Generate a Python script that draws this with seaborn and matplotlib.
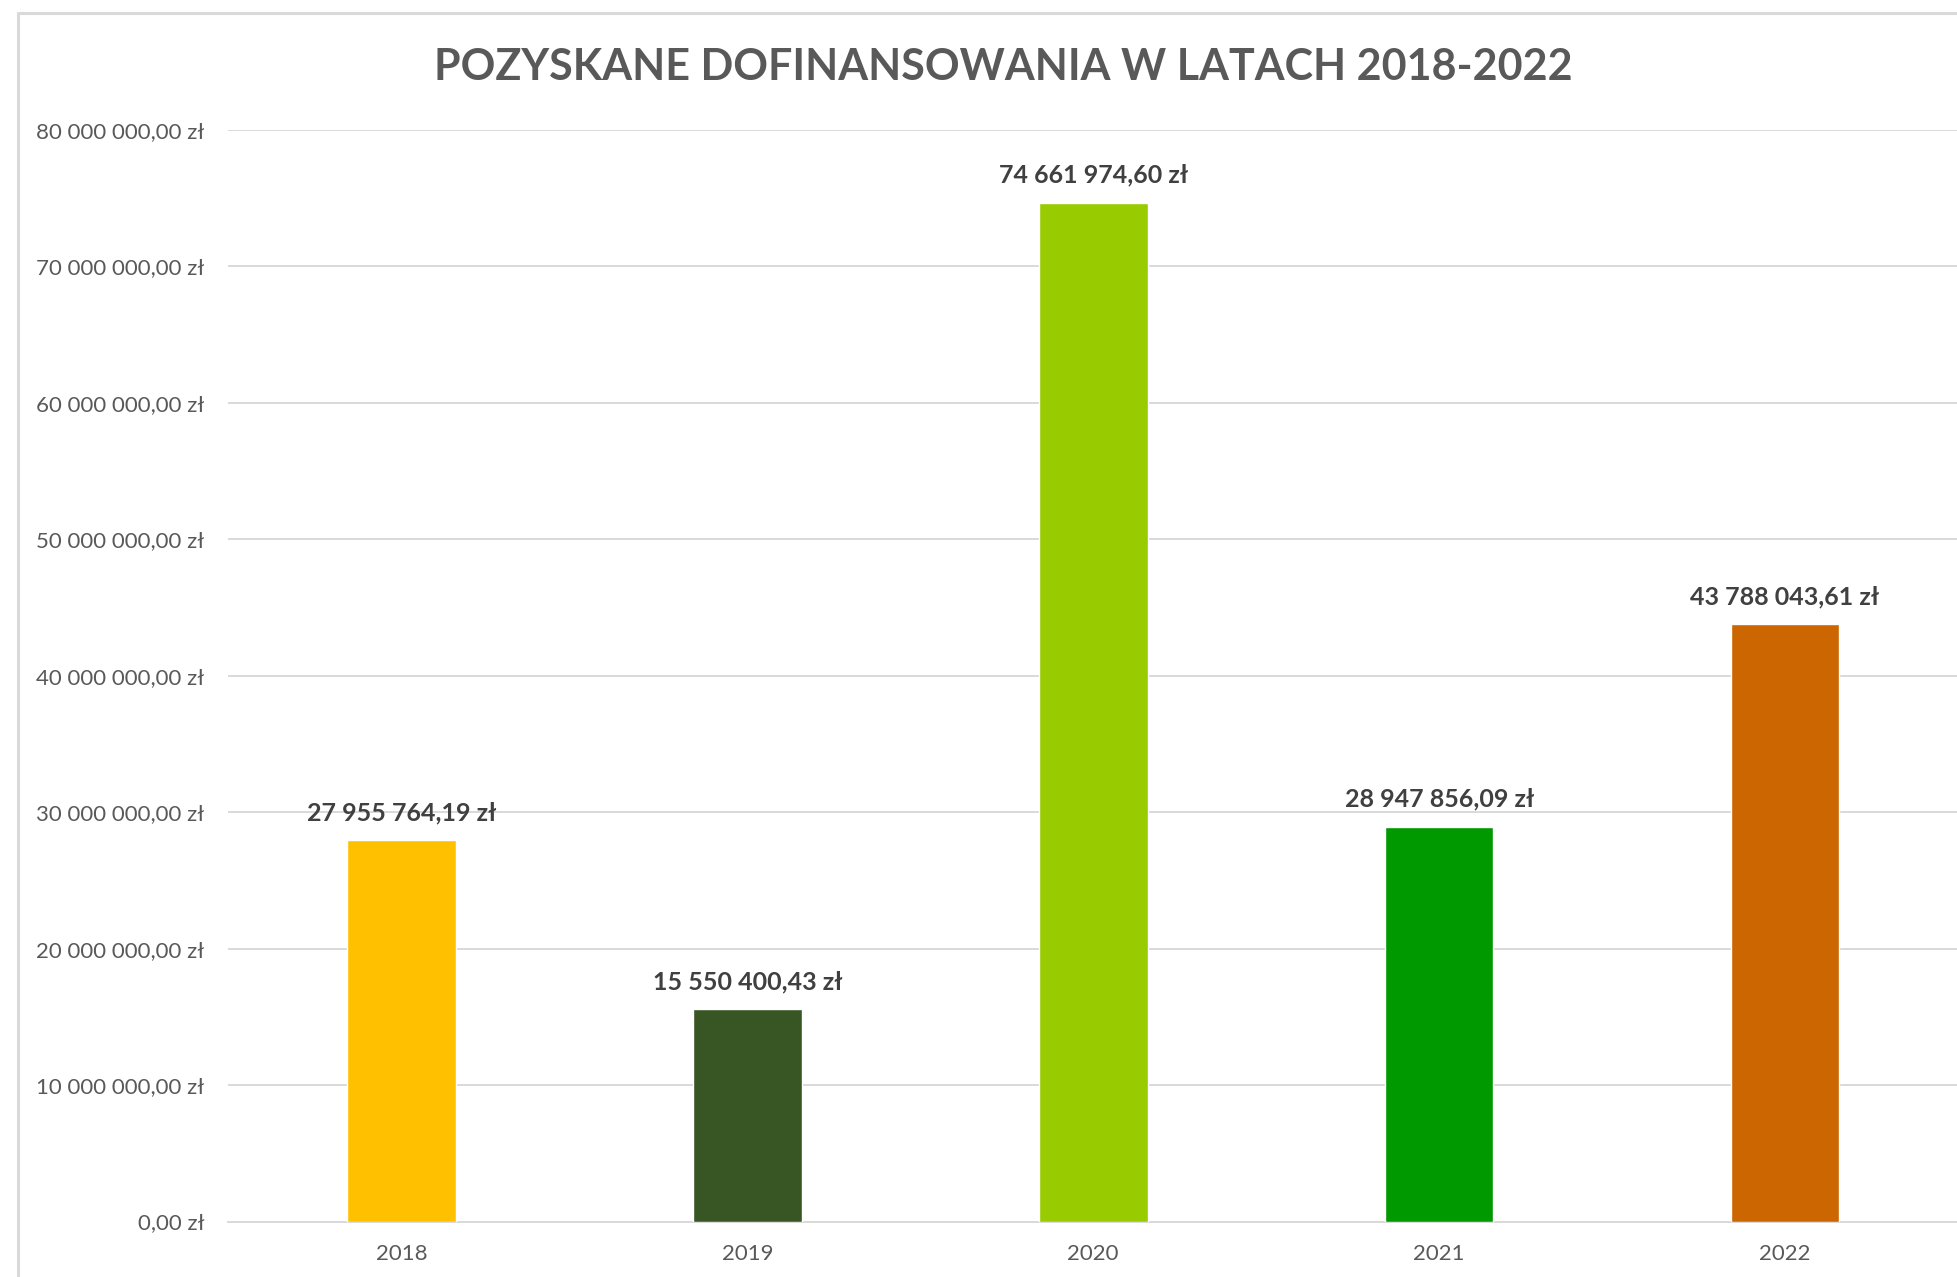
import matplotlib
matplotlib.use("Agg")
import matplotlib.pyplot as plt
from matplotlib.lines import Line2D
from matplotlib.ticker import FuncFormatter, MultipleLocator
import seaborn as sns
import pandas as pd

# ---- data ----
years = ["2018", "2019", "2020", "2021", "2022"]
values = [27955764.19, 15550400.43, 74661974.60, 28947856.09, 43788043.61]
colors = ["#FFC000", "#375623", "#99CC00", "#009900", "#CC6600"]
title = "POZYSKANE DOFINANSOWANIA W LATACH 2018-2022"


def pln(v):
    s = f"{v:,.2f}"
    s = s.replace(",", " ").replace(".", ",")
    return s + " zł"


df = pd.DataFrame({"year": years, "value": values})

sns.set_theme(style="white")
plt.rcParams["font.family"] = ["Lato", "DejaVu Sans"]

W, H = 1958, 1277
fig = plt.figure(figsize=(W / 100, H / 100), dpi=100)
fig.patch.set_facecolor("white")
ax = fig.add_axes([228.5 / W, 1 - 1221.5 / H, (1958 - 228.5) / W, (1221.5 - 130) / H])

sns.barplot(data=df, x="year", y="value", hue="year", palette=colors,
            width=0.314, saturation=1, legend=False, ax=ax, zorder=3)

ax.set_xlim(-0.5, 4.5)
ax.set_ylim(0, 80_000_000)
ax.yaxis.set_major_locator(MultipleLocator(10_000_000))
ax.yaxis.set_major_formatter(FuncFormatter(lambda v, p: pln(v)))
ax.grid(axis="y", color="#D9D9D9", linewidth=1.4, zorder=0)
ax.set_axisbelow(True)
for sp in ["left", "right", "top"]:
    ax.spines[sp].set_visible(False)
ax.spines["bottom"].set_color("#D9D9D9")
ax.spines["bottom"].set_linewidth(1.4)
ax.tick_params(axis="y", length=0, pad=17.5, labelsize=16, labelcolor="#595959")
ax.tick_params(axis="x", length=0, pad=16.5, labelsize=16, labelcolor="#595959")
ax.set_xlabel("")
ax.set_ylabel("")

for cont in ax.containers:
    ax.bar_label(cont, labels=[pln(b.get_height()) for b in cont], padding=11.5,
                 fontsize=18, fontweight="bold", color="#404040")

fig.text(1003 / W, 1 - 67.5 / H, title, ha="center", va="center",
         fontsize=31, fontweight="bold", color="#595959")

# chart-area border (left and top visible, rest cropped)
bx, by = 17.5 / W, 1 - 12.5 / H
fig.add_artist(Line2D([bx, bx], [0, by], color="#D9D9D9", lw=2.2, transform=fig.transFigure))
fig.add_artist(Line2D([bx, 1], [by, by], color="#D9D9D9", lw=2.2, transform=fig.transFigure))

fig.savefig("out.png", dpi=100, facecolor="white")
